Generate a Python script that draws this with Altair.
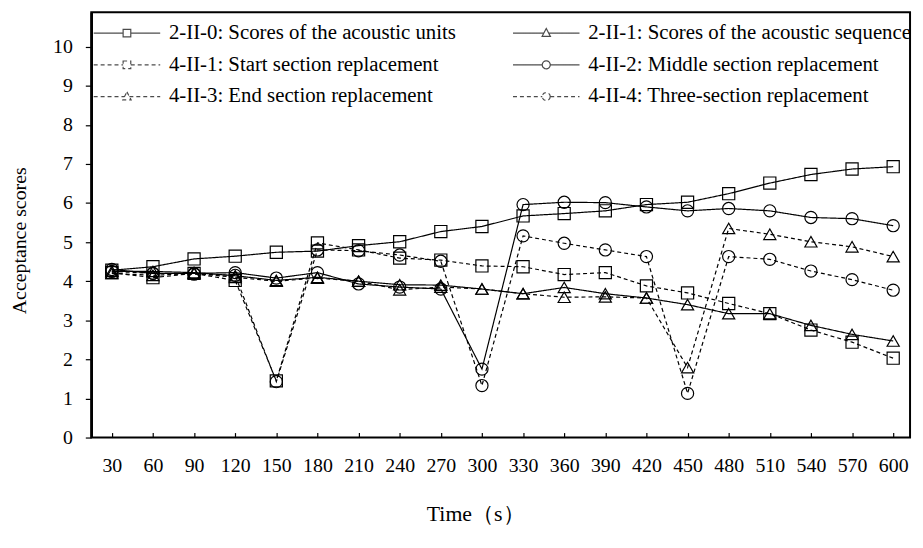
import altair as alt
import pandas as pd

times = [30, 60, 90, 120, 150, 180, 210, 240, 270, 300,
         330, 360, 390, 420, 450, 480, 510, 540, 570, 600]

series_names = [
    "2-II-0: Scores of the acoustic units",
    "2-II-1: Scores of the acoustic sequence",
    "4-II-1: Start section replacement",
    "4-II-2: Middle section replacement",
    "4-II-3: End section replacement",
    "4-II-4: Three-section replacement",
]

s_2II0 = [4.28, 4.37, 4.57, 4.64, 4.74, 4.77, 4.91, 5.01, 5.27, 5.40,
          5.67, 5.73, 5.80, 5.96, 6.02, 6.24, 6.51, 6.73, 6.87, 6.93]
s_2II1 = [4.25, 4.25, 4.22, 4.14, 4.02, 4.10, 4.00, 3.91, 3.90, 3.80,
          3.68, 3.84, 3.68, 3.57, 3.40, 3.17, 3.17, 2.87, 2.64, 2.47]
s_4II1 = [4.22, 4.09, 4.20, 4.02, 1.45, 4.98, 4.80, 4.59, 4.54, 4.39,
          4.37, 4.17, 4.22, 3.88, 3.70, 3.43, 3.17, 2.75, 2.44, 2.03]
s_4II2 = [4.30, 4.20, 4.20, 4.22, 4.08, 4.22, 3.93, 3.85, 3.80, 1.75,
          5.96, 6.02, 6.01, 5.90, 5.80, 5.86, 5.80, 5.63, 5.60, 5.42]
s_4II3 = [4.20, 4.15, 4.20, 4.10, 4.00, 4.08, 4.00, 3.78, 3.85, 3.80,
          3.68, 3.59, 3.60, 3.57, 1.79, 5.35, 5.20, 5.01, 4.88, 4.63]
s_4II4 = [4.25, 4.20, 4.18, 4.15, 1.43, 4.80, 4.78, 4.67, 4.51, 1.33,
          5.16, 4.97, 4.80, 4.63, 1.13, 4.63, 4.56, 4.26, 4.04, 3.77]

y_ticks = [0, 1, 2, 3, 4, 5, 6, 7, 8, 9, 10]

all_values = [s_2II0, s_2II1, s_4II1, s_4II2, s_4II3, s_4II4]
rows = []
for name, vals in zip(series_names, all_values):
    for t, v in zip(times, vals):
        rows.append({"time": t, "score": v, "series": name})
df = pd.DataFrame(rows)

# styles
SOLID = [1, 0]
DASH = [4, 3]
dash_range = [SOLID, SOLID, DASH, SOLID, DASH, DASH]
shape_range = ["square", "triangle-up", "square", "circle", "triangle-up", "circle"]

# legend symbols: a line with the marker in its middle
sq = "M-3,0H-0.345M0.345,0H3M-0.345,-0.345H0.345V0.345H-0.345Z"
tri = "M-3,0H-0.22M0.22,0H3M0,-0.42L0.375,0.3H-0.375Z"
cir = ("M-3,0H-0.36M0.36,0H3M0.36,0A0.36,0.36,0,1,1,-0.36,0"
       "A0.36,0.36,0,1,1,0.36,0Z")
legend_paths = [sq, tri, sq, cir, tri, cir]

FONT = "Liberation Serif"

x_enc = alt.X(
    "time:Q",
    scale=alt.Scale(domain=[15.0, 612.3], nice=False, zero=False),
    axis=alt.Axis(
        values=times, format="d", title="Time（s）",
        offset=-5, tickSize=5, domain=False, grid=False,
        labelPadding=18, labelFlush=False, labelOverlap=False,
        titleX=338, titleY=89, titleAlign="left", titleBaseline="alphabetic",
        titleFontSize=22,
    ),
)
y_enc = alt.Y(
    "score:Q",
    scale=alt.Scale(domain=[0, 10.88], nice=False),
    axis=alt.Axis(
        values=y_ticks, title="Acceptance scores", tickSize=6, grid=False,
        domainWidth=2.5, labelPadding=13,
        titleX=-72, titleY=230, titleAlign="center", titleBaseline="middle",
        titleFontSize=20,
    ),
)

base = alt.Chart(df)

lines = base.mark_line(color="black", strokeWidth=1.2).encode(
    x=x_enc, y=y_enc,
    strokeDash=alt.StrokeDash(
        "series:N",
        scale=alt.Scale(domain=series_names, range=dash_range),
        legend=None,
    ),
)

points = base.mark_point(color="black", filled=False, size=150, strokeWidth=1.2, opacity=1).encode(
    x="time:Q", y="score:Q",
    shape=alt.Shape(
        "series:N",
        scale=alt.Scale(domain=series_names, range=shape_range),
        legend=None,
    ),
)

leg_common = dict(
    title=None, orient="none", legendX=24, legendY=9, columns=2,
    direction="horizontal",
    columnPadding=54, rowPadding=10, labelFont=FONT, labelFontSize=21,
    labelColor="black", labelOffset=30.3, symbolSize=500,
    symbolStrokeColor="black", symbolStrokeWidth=1.2, padding=0,
    labelLimit=500,
)

legend_layer = base.transform_filter("false").mark_point(
    color="black", filled=False, strokeWidth=1.2
).encode(
    x="time:Q", y="score:Q",
    shape=alt.Shape(
        "series:N",
        scale=alt.Scale(domain=series_names, range=legend_paths),
        legend=alt.Legend(**leg_common),
    ),
    strokeDash=alt.StrokeDash(
        "series:N",
        scale=alt.Scale(domain=series_names, range=dash_range),
        legend=alt.Legend(**leg_common),
    ),
)

chart = alt.layer(lines, points, legend_layer).resolve_scale(
    shape="independent", strokeDash="independent"
).properties(
    width=826, height=429,
    autosize=alt.AutoSizeParams(type="none"),
    padding={"left": 84, "top": 2, "right": 5, "bottom": 98},
    background="white",
).configure_view(
    stroke="black", strokeWidth=2
).configure_axis(
    labelFont=FONT, titleFont=FONT, labelFontSize=20, labelColor="black",
    titleColor="black", titleFontWeight="normal", tickColor="black",
    domainColor="black", tickWidth=1.2,
)

chart.save("out.html", embed_options={"renderer": "svg", "actions": False})
